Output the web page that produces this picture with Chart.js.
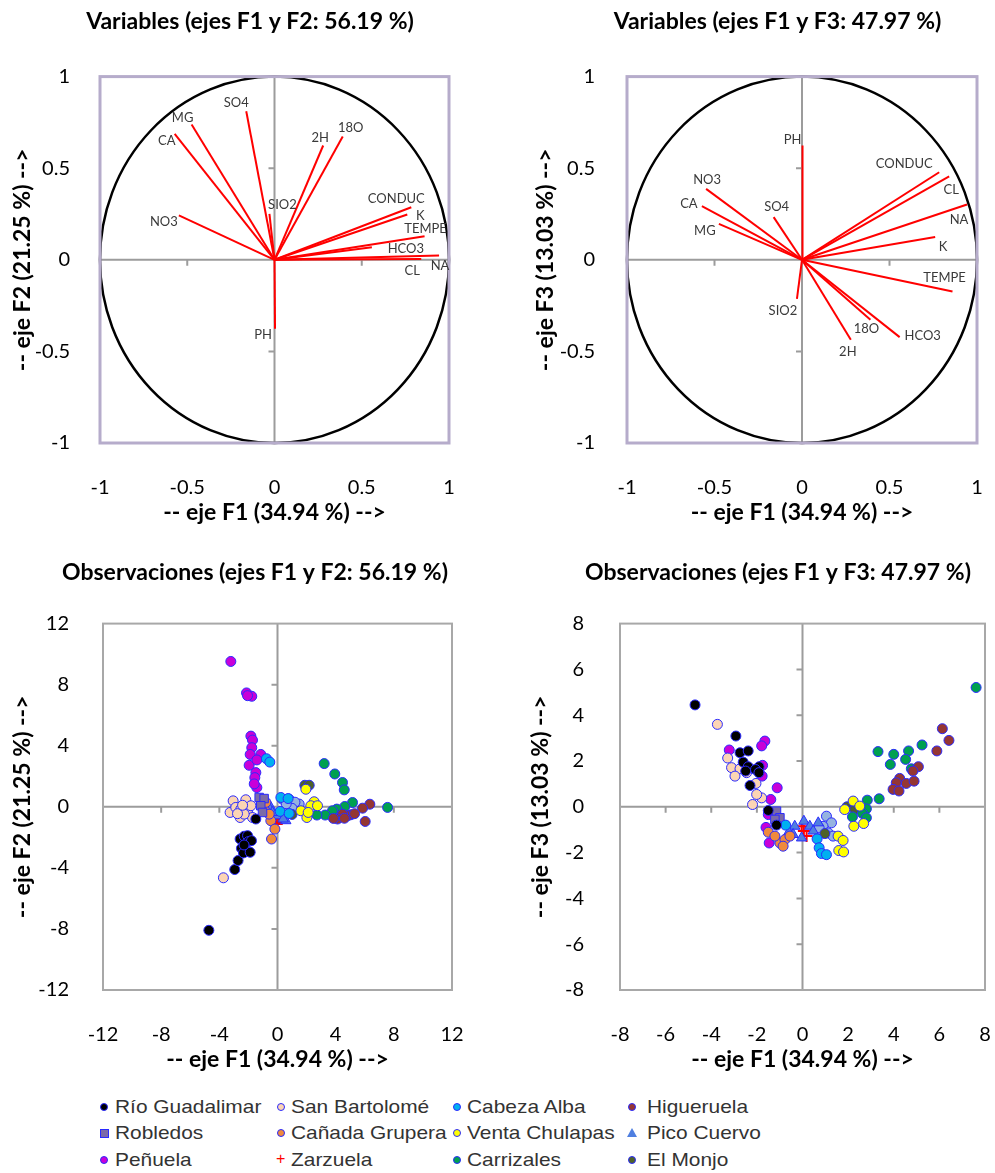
<!DOCTYPE html>
<html lang="es">
<head>
<meta charset="utf-8">
<title>ACP - variables y observaciones</title>
<script src="https://cdn.jsdelivr.net/npm/chart.js@4.4.1/dist/chart.umd.min.js"></script>
<style>
  html, body { margin: 0; padding: 0; background: #fff; overflow: hidden; }
  #page { position: relative; width: 995px; height: 1173px; overflow: hidden; }
  #page canvas { position: absolute; }
  .leg { position: absolute; font-family: 'Liberation Sans', Arial, sans-serif; font-size: 19px; color: #333;
         white-space: nowrap; line-height: 22px; transform: scaleX(1.1); transform-origin: left center; }
  .mk { position: absolute; box-sizing: border-box; }
</style>
</head>
<body>
<div id="page">
  <canvas id="varF12" width="500" height="540" style="left:0;top:0"></canvas>
  <canvas id="varF13" width="561" height="540" style="left:497px;top:0"></canvas>
  <canvas id="obsF12" width="510" height="545" style="left:0;top:540px"></canvas>
  <canvas id="obsF13" width="562" height="545" style="left:497px;top:540px"></canvas>
  <div id="legend"></div>
</div>
<script>
// variables: coordinates on the factor axes
const varNames = ['SO4', 'MG', 'CA', 'NO3', 'SIO2', '2H', '18O', 'CONDUC', 'K', 'TEMPE', 'HCO3', 'NA', 'CL', 'PH'];
const varF1 = [-0.162, -0.475, -0.572, -0.548, -0.029, 0.279, 0.391, 0.784, 0.761, 0.860, 0.558, 0.943, 0.841, 0.003];
const varF2 = [0.811, 0.738, 0.687, 0.242, 0.251, 0.624, 0.673, 0.287, 0.247, 0.129, 0.069, 0.024, 0.005, -0.376];
const varF3 = [0.233, 0.196, 0.293, 0.387, -0.213, -0.436, -0.327, 0.478, 0.124, -0.173, -0.422, 0.302, 0.455, 0.624];

// observations, F1-F2
const rioF12 = [[-4.72,-8.09],[-2.94,-4.11],[-2.71,-3.52],[-2.48,-2.72],[-2.34,-3.02],[-1.88,-2.98],[-2.57,-2.11],[-2.29,-1.93],[-2.06,-1.89],[-2.0,-2.28],[-1.79,-2.22],[-2.3,-2.5],[-1.49,-0.80]];
const sanBartF12 = [[-3.72,-4.65],[-3.05,0.39],[-3.26,-0.37],[-2.87,-0.04],[-2.52,-0.15],[-2.18,0.46],[-2.06,-0.37],[-1.83,0.07],[-1.72,-0.70],[-2.57,-0.70],[-2.29,-0.48],[-2.75,-0.45],[-2.4,0.1]];
const cabezaF12 = [[-0.76,3.15],[-0.53,2.93],[0.23,0.61],[0.73,0.54],[0.18,-0.3],[0.8,-0.44]];
const higuerF12 = [[6.35,0.17],[5.85,-0.09],[6.03,-0.96],[5.05,-0.52],[4.82,-0.59],[4.47,-0.48],[4.13,-0.80],[3.85,-0.76],[4.6,-0.75],[5.3,-0.45]];
const robledF12 = [[-1.26,0.61],[-0.92,0.54],[-1.15,0.07],[-1.03,-0.37]];
const canadaF12 = [[-0.92,0.17],[-0.87,-0.26],[-0.46,-0.91],[-0.18,-1.46],[-0.41,-2.11],[-0.57,-0.48],[-0.8,0.29]];
const ventaF12 = [[2.52,0.33],[2.29,0.07],[2.75,0.07],[1.61,-0.26],[2.02,-0.70],[2.11,-0.37],[1.95,1.15]];
const picoF12 = [[-0.46,-0.04],[0.23,-0.37],[0.57,-0.91],[0,-0.59],[-0.53,-0.15],[-0.35,-0.37],[0.39,-0.8]];
const penuelaF12 = [[-3.21,9.52],[-2.13,7.46],[-1.77,7.24],[-2.06,7.28],[-1.83,4.63],[-1.72,4.37],[-1.77,3.87],[-1.88,3.43],[-1.15,3.43],[-1.95,2.72],[-1.42,3.07],[-1.49,2.24],[-1.56,1.91],[-1.42,1.26],[-1.6,1.5]];
const zarzuelaF12 = [[-0.07,-1.02],[0.12,-0.8],[-0.05,-1.13]];
const carrizF12 = [[3.21,2.83],[3.94,2.15],[4.47,1.59],[4.59,1.11],[7.57,-0.04],[5.16,0.28],[4.63,0.02],[4.08,-0.15],[3.78,-0.26],[3.28,-0.54],[2.71,-0.54]];
const monjoF12 = [[1.88,1.41],[2.18,1.41],[1.0,-0.5]];
const otrosF12 = [[0.80,0.50],[1.49,0.18],[0.80,-0.26],[0.34,0.5],[1.2,0.3],[1.0,-0.1],[0.6,0.2]];

// observations, F1-F3
const rioF13 = [[-4.71,4.45],[-2.92,3.09],[-2.74,2.36],[-2.38,2.44],[-2.60,1.95],[-2.38,1.75],[-1.90,1.75],[-2.49,1.56],[-2.06,1.63],[-1.91,1.49],[-2.30,0.93],[-1.50,-0.16],[-1.14,-0.80]];
const sanBartF13 = [[-3.73,3.60],[-3.28,2.13],[-3.11,1.71],[-2.74,1.66],[-2.96,1.34],[-2.45,1.49],[-2.04,1.02],[-1.79,0.39],[-2.19,0.10],[-2.01,0.54]];
const cabezaF13 = [[-0.74,-0.80],[0.64,-1.40],[0.73,-1.79],[0.83,-2.04],[1.05,-2.09]];
const higuerF13 = [[6.13,3.41],[6.42,2.90],[5.89,2.44],[5.08,1.75],[4.84,1.56],[4.26,1.24],[4.11,1.05],[4.55,1.02],[4.89,1.12],[3.97,0.76],[4.23,0.69]];
const robledF13 = [[-1.14,-0.19],[-0.99,-0.48],[-1.21,-0.55]];
const canadaF13 = [[-1.50,-1.11],[-0.99,-1.58],[-1.21,-1.28],[-0.77,-1.43],[-0.55,-1.28],[-0.85,-1.72]];
const ventaF13 = [[2.22,0.25],[2.51,0.03],[1.85,-0.12],[2.25,-0.85],[2.68,-0.73],[1.56,-1.28],[1.78,-1.47],[1.59,-1.91],[1.80,-1.97]];
const picoF13 = [[-0.34,-0.85],[0.06,-0.63],[-0.41,-1.21],[-0.04,-1.36],[0.32,-0.85],[0.47,-1.06],[0.69,-0.70],[-0.6,-1.1]];
const penuelaF13 = [[-1.65,2.87],[-3.21,2.48],[-1.79,2.66],[-1.75,1.81],[-1.77,1.34],[-1.11,0.83],[-1.39,0.32],[-1.50,-0.34],[-1.46,-1.58],[-1.6,-0.9]];
const zarzuelaF13 = [[-0.04,-0.85],[0.06,-1.06],[0.18,-1.28]];
const carrizF13 = [[7.61,5.21],[3.31,2.41],[4.0,2.29],[4.65,2.44],[5.24,2.70],[4.52,2.07],[3.85,1.85],[4.77,1.66],[3.36,0.35],[2.84,0.29],[2.80,-0.09],[2.63,-0.29],[2.19,-0.44],[2.80,-0.48]];
const monjoF13 = [[1.95,0],[2.29,-0.12],[0.98,-1.17]];
const otrosF13 = [[1.05,-0.41],[1.27,-0.70],[0.90,-0.85],[1.12,-1.14],[1.34,-1.28],[0.73,-0.92]];

const seriesNames = ['Río Guadalimar', 'San Bartolomé', 'Cabeza Alba', 'Higueruela', 'Robledos', 'Cañada Grupera',
                     'Venta Chulapas', 'Pico Cuervo', 'Peñuela', 'Zarzuela', 'Carrizales', 'El Monjo'];
const seriesF12 = [rioF12, sanBartF12, cabezaF12, higuerF12, robledF12, canadaF12, ventaF12, picoF12, penuelaF12, zarzuelaF12, carrizF12, monjoF12, otrosF12];
const seriesF13 = [rioF13, sanBartF13, cabezaF13, higuerF13, robledF13, canadaF13, ventaF13, picoF13, penuelaF13, zarzuelaF13, carrizF13, monjoF13, otrosF13];

// styles
const fillColors = ['#000000', '#fcd5b4', '#00b0f0', '#943634', '#7b6aa8', '#f08a3c', '#ffff00', '#4f7fe0', '#c800d8', '#ff0000', '#00a050', '#4f6228', '#95b3e0'];
const pointStyles = ['circle', 'circle', 'circle', 'circle', 'rect', 'circle', 'circle', 'triangle', 'circle', 'cross', 'circle', 'circle', 'circle'];
const edge = '#2a2aff';

// label offsets (px) from the arrow tip
const labOffF12 = { SO4:[-10,-8], MG:[-9,-7], CA:[-8,7], NO3:[-15,6], SIO2:[13,-9], '2H':[-3,-8], '18O':[8,-9],
  CONDUC:[-15,-8], K:[13,1], TEMPE:[1,-7], HCO3:[34,2], NA:[1,10], CL:[-9,12], PH:[-12,6] };
const labOffF13 = { PH:[-10,-6], CONDUC:[-35,-8], CL:[2,13], NA:[-8,15], K:[8,10], TEMPE:[-8,-14], HCO3:[23,-1],
  '18O':[-4,9], '2H':[-3,12], SIO2:[-14,12], SO4:[3,-10], NO3:[1,-9], CA:[-13,-2], MG:[-14,7] };

const titleFont = { family: 'Lato', size: 23, weight: 'bold', lineHeight: 1.2 };
const axisFont = { family: 'Lato', size: 23, weight: 'bold', lineHeight: 1.2 };
const tickFont = { family: 'Lato', size: 20 };

// frame, zero axes, small tick marks and the correlation circle
const framePlugin = {
  id: 'frame',
  beforeDatasetsDraw(chart, args, o) {
    const { ctx, chartArea: a, scales: { x, y } } = chart;
    const x0 = x.getPixelForValue(0), y0 = y.getPixelForValue(0);
    ctx.save();
    ctx.strokeStyle = '#9c9c9c';
    ctx.lineWidth = 2;
    ctx.beginPath();
    ctx.moveTo(x0, a.top); ctx.lineTo(x0, a.bottom);
    ctx.moveTo(a.left, y0); ctx.lineTo(a.right, y0);
    x.ticks.forEach(t => {
      if (t.value === 0 || t.value === x.min || t.value === x.max) return;
      const px = x.getPixelForValue(t.value);
      ctx.moveTo(px, y0); ctx.lineTo(px, y0 + 6);
    });
    y.ticks.forEach(t => {
      if (t.value === 0 || t.value === y.min || t.value === y.max) return;
      const py = y.getPixelForValue(t.value);
      ctx.moveTo(x0 - 6, py); ctx.lineTo(x0, py);
    });
    ctx.stroke();
    if (o.circle) {
      ctx.strokeStyle = '#000';
      ctx.lineWidth = 2.5;
      ctx.beginPath();
      ctx.ellipse(x0, y0, x.getPixelForValue(1) - x0, y0 - y.getPixelForValue(1), 0, 0, Math.PI * 2);
      ctx.stroke();
    }
    ctx.strokeStyle = o.color;
    ctx.lineWidth = o.width;
    ctx.strokeRect(a.left, a.top, a.width, a.height);
    ctx.restore();
  }
};

// variable names at the arrow tips
const namesPlugin = {
  id: 'names',
  afterDatasetsDraw(chart, args, o) {
    if (!o.offsets) return;
    const { ctx } = chart;
    ctx.save();
    ctx.font = '13px Lato';
    ctx.fillStyle = '#3a3a3a';
    ctx.textAlign = 'center';
    ctx.textBaseline = 'middle';
    chart.data.datasets.forEach((ds, i) => {
      const pt = chart.getDatasetMeta(i).data[1];
      const off = o.offsets[ds.label] || [0, 0];
      ctx.fillText(ds.label, pt.x + off[0], pt.y + off[1]);
    });
    ctx.restore();
  }
};

const plainNum = v => String(Number(v));

function axes(lim, step, xTitle, yTitle, g) {
  return {
    x: {
      type: 'linear', min: -lim, max: lim,
      ticks: { stepSize: step, padding: g.xPad, font: tickFont, color: '#000', callback: plainNum },
      grid: { display: false }, border: { display: false },
      title: { display: true, text: xTitle, font: axisFont, color: '#000', padding: { top: 0, bottom: g.xTitlePad } },
      afterFit: s => { s.height = g.xH; }
    },
    y: {
      type: 'linear', min: -lim, max: lim,
      ticks: { stepSize: step, padding: g.yPad, font: tickFont, color: '#000', callback: plainNum },
      grid: { display: false }, border: { display: false },
      title: { display: true, text: yTitle, font: axisFont, color: '#000', padding: { top: g.yTitlePad, bottom: 0 } },
      afterFit: s => { s.width = g.yW; }
    },
    // empty right-hand margin, so the title stays centred on the whole canvas
    margin: {
      type: 'linear', position: 'right', min: 0, max: 1,
      ticks: { display: false }, grid: { display: false }, border: { display: false },
      afterFit: s => { s.width = g.padR; }
    }
  };
}

function makeChart(id, datasets, title, lim, step, yTitle, g, frame, offsets) {
  new Chart(document.getElementById(id), {
    type: 'scatter',
    data: { datasets },
    plugins: [framePlugin, namesPlugin],
    options: {
      responsive: false, animation: false, events: [], devicePixelRatio: 1,
      layout: { padding: 0 },
      plugins: {
        legend: { display: false }, tooltip: { enabled: false },
        title: { display: true, text: title, font: titleFont, color: '#000', padding: { top: g.tTop, bottom: g.tBot } },
        frame, names: { offsets }
      },
      scales: axes(lim, step, '-- eje F1 (34.94 %) -->', yTitle, g)
    }
  });
}

function vectorSets(fy) {
  return varNames.map((n, i) => ({
    label: n,
    data: [{ x: 0, y: 0 }, { x: varF1[i], y: fy[i] }],
    showLine: true, borderColor: '#ff0000', borderWidth: 2, pointRadius: 0
  }));
}

function obsSets(series) {
  return series.map((s, i) => ({
    label: seriesNames[i] || '',
    data: s.map(p => ({ x: p[0], y: p[1] })),
    pointStyle: pointStyles[i],
    backgroundColor: fillColors[i],
    borderColor: pointStyles[i] === 'cross' ? fillColors[i] : edge,
    borderWidth: pointStyles[i] === 'cross' ? 2 : 1,
    pointRadius: pointStyles[i] === 'circle' ? 5 : 6
  }));
}

const varFrame = { circle: true, color: '#b6accb', width: 3 };
const obsFrame = { circle: false, color: '#a8a8a8', width: 2 };

// title blocks: tTop + 1.2*23 + tBot = chart area top
makeChart('varF12', vectorSets(varF2), 'Variables (ejes F1 y F2: 56.19 %)', 1, 0.5, '-- eje F2 (21.25 %) -->',
  { padR: 51, yW: 100, xH: 97, xPad: 25, yPad: 22, xTitlePad: 14, yTitlePad: 9, tTop: 8, tBot: 41 }, varFrame, labOffF12);
makeChart('varF13', vectorSets(varF3), 'Variables (ejes F1 y F3: 47.97 %)', 1, 0.5, '-- eje F3 (13.03 %) -->',
  { padR: 81, yW: 130, xH: 97, xPad: 25, yPad: 24, xTitlePad: 14, yTitlePad: 35, tTop: 8, tBot: 41 }, varFrame, labOffF13);
makeChart('obsF12', obsSets(seriesF12), 'Observaciones (ejes F1 y F2: 56.19 %)', 12, 4, '-- eje F2 (21.25 %) -->',
  { padR: 58, yW: 103, xH: 95, xPad: 25, yPad: 26, xTitlePad: 12, yTitlePad: 9, tTop: 19, tBot: 37 }, obsFrame, null);
makeChart('obsF13', obsSets(seriesF13), 'Observaciones (ejes F1 y F3: 47.97 %)', 8, 2, '-- eje F3 (13.03 %) -->',
  { padR: 74, yW: 123, xH: 95, xPad: 25, yPad: 28, xTitlePad: 12, yTitlePad: 30, tTop: 19, tBot: 37 }, obsFrame, null);

// legend: 4 columns x 3 rows, filled column by column
const legCols = [[104, 115], [281, 291], [457, 467], [632, 647]];
const legRows = [1107, 1133, 1160];
const legOrder = [0, 4, 8, 1, 5, 9, 2, 6, 10, 3, 7, 11];
const legend = document.getElementById('legend');
legOrder.forEach((k, i) => {
  const col = legCols[Math.floor(i / 3)], cy = legRows[i % 3];
  const st = pointStyles[k];
  const mk = document.createElement('span');
  mk.className = 'mk';
  if (st === 'cross') {
    mk.textContent = '+';
    Object.assign(mk.style, { left: (col[0] - 5) + 'px', top: (cy - 10) + 'px', color: '#ff0000', font: '16px "Liberation Sans"' });
  } else if (st === 'triangle') {
    Object.assign(mk.style, { left: (col[0] - 5) + 'px', top: (cy - 5) + 'px', width: '10px', height: '9px',
      background: fillColors[k], clipPath: 'polygon(50% 0, 100% 100%, 0 100%)' });
  } else {
    const sz = st === 'rect' ? 9 : 8;
    Object.assign(mk.style, { left: (col[0] - sz / 2) + 'px', top: (cy - sz / 2) + 'px', width: sz + 'px', height: sz + 'px',
      background: fillColors[k], border: '1px solid ' + edge, borderRadius: st === 'rect' ? '0' : '50%' });
  }
  const tx = document.createElement('span');
  tx.className = 'leg';
  tx.textContent = seriesNames[k];
  tx.style.left = col[1] + 'px';
  tx.style.top = (cy - 11) + 'px';
  legend.appendChild(mk);
  legend.appendChild(tx);
});
</script>
</body>
</html>
